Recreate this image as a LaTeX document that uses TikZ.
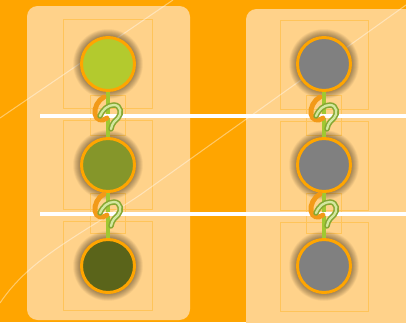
\documentclass[tikz,border=0pt]{standalone}
\usetikzlibrary{calc}
\definecolor{bgorange}{HTML}{FFA500}
\definecolor{panel}{HTML}{FFD28A}
\definecolor{boxline}{HTML}{FFC45A}
\definecolor{limeA}{HTML}{B3CA2E}
\definecolor{oliveB}{HTML}{85962A}
\definecolor{oliveC}{HTML}{5A641A}
\definecolor{stone}{HTML}{808080}
\definecolor{wiregreen}{HTML}{A0C832}
\definecolor{hookorange}{HTML}{F29A18}
\definecolor{hookgreen}{HTML}{A8D040}
\newcommand{\blurshadow}[2]{\foreach \r in {28,28.5,...,35}{\fill[black,opacity=.028] (#1,#2) circle (\r);}}
\newcommand{\chainlink}[2]{\begin{scope}[shift={(#1,#2)}]\draw[hookorange,line width=2.8pt,line cap=round] (-4,-20) .. controls (-10,-17) and (-14,-9) .. (-13,-3) .. controls (-12,3) and (-6,5) .. (-1,1);\draw[hookgreen!80!black,line width=3.1pt,line cap=round] (-8,-1) .. controls (-5,-8) and (0,-12) .. (6,-12) .. controls (13,-12) and (14,-3) .. (10,1) .. controls (7,4) and (4,6) .. (3,12);\draw[hookgreen!50!white,line width=1.3pt,line cap=round] (-8,-1) .. controls (-5,-8) and (0,-12) .. (6,-12) .. controls (13,-12) and (14,-3) .. (10,1) .. controls (7,4) and (4,6) .. (3,12);\end{scope}}
\tikzset{bead/.style={circle,draw=bgorange,line width=1.7pt,minimum size=1.06cm,inner sep=0pt},
  wire/.style={wiregreen,line width=2.3pt},
  rail/.style={white,line width=2.3pt},
  frame/.style={boxline,line width=.3pt},
  streak/.style={white,opacity=.4,line width=.6pt}}

\begin{document}
\begin{tikzpicture}[x=0.02cm,y=-0.02cm]
\useasboundingbox (0,0) rectangle (406,322);
\fill[bgorange] (0,0) rectangle (406,322);
\fill[panel,rounded corners=6] (27,6) rectangle (190,320);\fill[panel,rounded corners=6] (246,9) rectangle (420,340);
% faint frames round each bead and link
\foreach \y/\h in {19/108,120/209,221/310}{\draw[frame] (63,\y) rectangle (152,\h);\draw[frame] (280,\y+1) rectangle (368,\h+1);}
\foreach \y in {95,193}{\draw[frame] (90,\y) rectangle (125,\y+40);\draw[frame] (306,\y) rectangle (341,\y+40);}
\draw[streak] (0,118)--(173,0);\draw[streak] (0,303) .. controls (30,258) and (80,235) .. (140,195) -- (406,5);
\foreach \y in {64,165,266}{\blurshadow{108}{\y}\blurshadow{324}{\y}}
\node[bead,fill=limeA] (l1) at (108,64){};\node[bead,fill=oliveB] (l2) at (108,165){};\node[bead,fill=oliveC] (l3) at (108,266){};
\node[bead,fill=stone] (r1) at (324,64){};\node[bead,fill=stone] (r2) at (324,165){};\node[bead,fill=stone] (r3) at (324,266){};
\draw[wire] (l1)--(l2);\draw[wire] (l2)--(l3);\draw[wire] (r1)--(r2);\draw[wire] (r2)--(r3);
\coordinate (railA) at (40,116);\coordinate (railB) at (40,214);
\draw[rail] (railA)--(railA-|406,0);\draw[rail] (railB)--(railB-|406,0);
\chainlink{108}{117}\chainlink{108}{214}\chainlink{324}{117}\chainlink{324}{214}
\end{tikzpicture}
\end{document}
